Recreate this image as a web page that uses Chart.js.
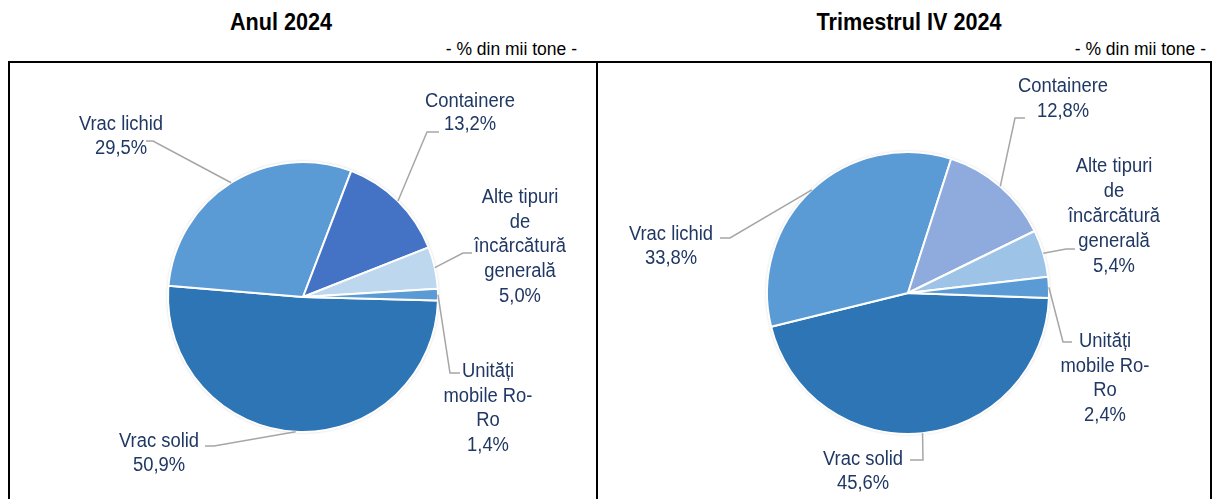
<!DOCTYPE html>
<html>
<head>
<meta charset="utf-8">
<script src="https://cdn.jsdelivr.net/npm/chart.js@4"></script>
<style>
  body { margin: 0; width: 1216px; height: 499px; overflow: hidden; background: #fff; font-family: "Liberation Sans", Arial, sans-serif; }
  .title { position: absolute; top: 10px; width: 300px; text-align: center; font-weight: bold; font-size: 24px; line-height: 24px; color: #000; transform: scaleX(0.9); }
  .unit { position: absolute; top: 40px; width: 200px; text-align: right; font-size: 17.5px; line-height: 18px; color: #000; }
  .box { position: absolute; left: 8px; top: 61px; width: 1200px; height: 460px; border: 2px solid #000; }
  .divider { position: absolute; left: 596px; top: 61px; width: 2px; height: 460px; background: #000; }
  canvas { position: absolute; }
</style>
</head>
<body>
<div class="title" style="left:131px">Anul 2024</div>
<div class="title" style="left:759px">Trimestrul IV 2024</div>
<div class="unit" style="left:377px">- % din mii tone -</div>
<div class="unit" style="left:1006px">- % din mii tone -</div>
<div class="box"></div>
<div class="divider"></div>
<canvas id="pieYear" width="586" height="440" style="left:10px; top:63px"></canvas>
<canvas id="pieQ4" width="611" height="440" style="left:599px; top:63px"></canvas>
<script>
const categories = ['Vrac solid', 'Vrac lichid', 'Containere', 'Alte tipuri de încărcătură generală', 'Unități mobile Ro-Ro'];
const labelLines = [['Vrac solid'], ['Vrac lichid'], ['Containere'], ['Alte tipuri', 'de', 'încărcătură', 'generală'], ['Unități', 'mobile Ro-', 'Ro']];
const valuesYear = [50.9, 29.5, 13.2, 5.0, 1.4];
const valuesQ4 = [45.6, 33.8, 12.8, 5.4, 2.4];

const colorsYear = ['#2E75B6', '#5B9BD5', '#4472C4', '#BDD7EE', '#5B9BD5'];
const colorsQ4 = ['#2E75B6', '#5B9BD5', '#8FAADC', '#9DC3E6', '#5B9BD5'];

// label block placement: centre x, first baseline, line step, leader elbow and end
const placesYear = [
    { cx: 149, y: 384, step: 24, elbow: [204, 383], end: [195, 383] },
    { cx: 111, y: 67, step: 24, elbow: [143, 78], end: [136, 78] },
    { cx: 460, y: 44, step: 23, elbow: [417, 69], end: [429, 69] },
    { cx: 510, y: 140, step: 24.7, elbow: [453, 190], end: [462, 190] },
    { cx: 478, y: 314, step: 24.7, elbow: [440, 310], end: [450, 310] }
];
const placesQ4 = [
    { cx: 264, y: 402, step: 24, elbow: [324, 397], end: [311, 397] },
    { cx: 72, y: 177, step: 24, elbow: [131, 175], end: [121, 175] },
    { cx: 464, y: 29, step: 25, elbow: [416, 55], end: [426, 55] },
    { cx: 515, y: 109, step: 25, elbow: [467, 186], end: [476, 186] },
    { cx: 506, y: 284, step: 24.5, elbow: [464, 279], end: [473, 279] }
];

function fmt(v) {
    return v.toFixed(1).replace('.', ',') + '%';
}

function makeCallouts(places) {
    return {
        id: 'callouts',
        beforeDatasetsDraw(chart) {
            // soft grey rim under the pie
            const arc = chart.getDatasetMeta(0).data[0];
            const p = arc.getProps(['x', 'y', 'outerRadius'], true);
            const ctx = chart.ctx;
            ctx.save();
            ctx.shadowColor = 'rgba(0,0,0,0.35)';
            ctx.shadowBlur = 3;
            ctx.beginPath();
            ctx.arc(p.x, p.y, p.outerRadius, 0, Math.PI * 2);
            ctx.fillStyle = '#fff';
            ctx.fill();
            ctx.restore();
        },
        afterDatasetsDraw(chart) {
            const ctx = chart.ctx;
            const values = chart.data.datasets[0].data;
            chart.getDatasetMeta(0).data.forEach((arc, i) => {
                const p = arc.getProps(['x', 'y', 'startAngle', 'endAngle', 'outerRadius'], true);
                const mid = (p.startAngle + p.endAngle) / 2;
                const ex = p.x + p.outerRadius * Math.cos(mid);
                const ey = p.y + p.outerRadius * Math.sin(mid);
                const pl = places[i];
                ctx.save();
                ctx.strokeStyle = '#A6A6A6';
                ctx.lineWidth = 1.5;
                ctx.beginPath();
                ctx.moveTo(ex, ey);
                ctx.lineTo(pl.elbow[0], pl.elbow[1]);
                ctx.lineTo(pl.end[0], pl.end[1]);
                ctx.stroke();
                ctx.fillStyle = '#203864';
                ctx.font = '20px "Liberation Sans", Arial, sans-serif';
                ctx.textAlign = 'center';
                ctx.textBaseline = 'alphabetic';
                const lines = labelLines[i].concat([fmt(values[i])]);
                lines.forEach((t, k) => {
                    // slightly condensed lettering
                    ctx.save();
                    ctx.translate(pl.cx, pl.y + k * pl.step);
                    ctx.scale(0.92, 1);
                    ctx.fillText(t, 0, 0);
                    ctx.restore();
                });
                ctx.restore();
            });
        }
    };
}

function pieChart(id, values, colors, places, rotation, radius, padding) {
    return new Chart(document.getElementById(id), {
        type: 'pie',
        data: {
            labels: categories,
            datasets: [{
                data: values,
                backgroundColor: colors,
                borderColor: '#fff',
                borderWidth: 2
            }]
        },
        options: {
            responsive: false,
            animation: false,
            devicePixelRatio: 1,
            rotation: rotation,
            radius: radius,
            layout: { padding: padding },
            plugins: {
                legend: { display: false },
                tooltip: { enabled: false }
            }
        },
        plugins: [makeCallouts(places)]
    });
}

pieChart('pieYear', valuesYear, colorsYear, placesYear, 91.5, 135, { top: 28 });
pieChart('pieQ4', valuesQ4, colorsQ4, placesQ4, 92, 141, { top: 20, left: 7 });
</script>
</body>
</html>
